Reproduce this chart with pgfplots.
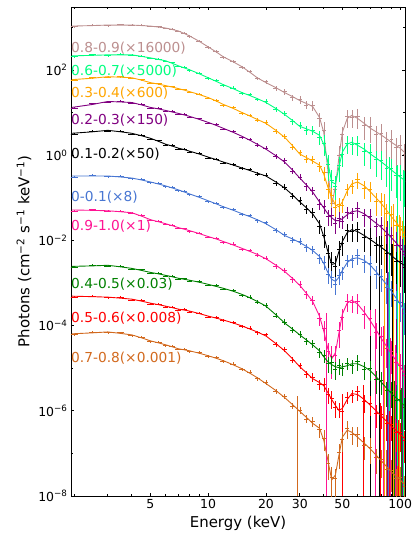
\documentclass[border=0pt]{standalone}
\usepackage{fontspec}
\setmainfont{DejaVu Sans}
\usepackage{pgfplots}
\usepackage{pgfplotstable}
\pgfplotsset{compat=1.18}
\definecolor{cBrown}{HTML}{BC8F8F}
\definecolor{cSpring}{HTML}{00FF7F}
\definecolor{cOrange}{HTML}{FFA500}
\definecolor{cPurple}{HTML}{800080}
\definecolor{cBlack}{HTML}{000000}
\definecolor{cBlue}{RGB}{72,118,210}
\definecolor{cPink}{HTML}{FF1493}
\definecolor{cGreen}{HTML}{008000}
\definecolor{cRed}{HTML}{FF0000}
\definecolor{cChoc}{HTML}{D2691E}

% binned spectra: E, rel. x error, rel. y errors (normal / deep-dip), 10 phase bins
\pgfplotstableread{
E ex ey ez s1 s2 s3 s4 s5 s6 s7 s8 s9 s10
2 0.045 0.05 0.05 1040 205 57 12.6 3.1 0.31 0.049 0.00235 4.7e-4 6.1e-5
2.5 0.045 0.05 0.05 1130 228 66 16.2 3.7 0.34 0.053 0.00265 5.0e-4 7.1e-5
3 0.04 0.05 0.05 1100 218 67 17.5 3.7 0.315 0.048 0.0025 4.5e-4 6.8e-5
3.5 0.04 0.05 0.05 1170 236 70 18.6 3.7 0.32 0.049 0.0025 4.6e-4 6.9e-5
4 0.04 0.05 0.05 1110 220 63 16.6 3.15 0.28 0.043 0.0021 4.0e-4 5.8e-5
4.5 0.04 0.05 0.05 1140 214 59.5 15.8 2.98 0.272 0.039 0.00205 3.9e-4 5.4e-5
5 0.04 0.05 0.05 1050 186 48.5 12.7 2.4 0.226 0.0295 0.0017 3.25e-4 4.2e-5
5.5 0.04 0.05 0.05 1040 182 48 12.8 2.2 0.22 0.0285 0.0017 3.2e-4 4.1e-5
6 0.035 0.05 0.05 940 158 41.5 10.8 1.75 0.183 0.0238 0.00145 2.75e-4 3.4e-5
6.5 0.035 0.05 0.05 910 148 41 10.8 1.7 0.177 0.0229 0.00146 2.75e-4 3.3e-5
7 0.035 0.05 0.05 800 121 35.2 9.2 1.41 0.148 0.0191 0.00124 2.33e-4 2.75e-5
7.5 0.035 0.05 0.05 740 116 34.8 9.2 1.41 0.143 0.019 0.00127 2.4e-4 2.8e-5
8 0.035 0.06 0.06 610 97 29.8 7.8 1.19 0.118 0.0162 0.00111 2.1e-4 2.45e-5
9 0.035 0.06 0.06 480 84 27.3 7.2 1.11 0.107 0.015 0.00109 2.0e-4 2.35e-5
10 0.035 0.06 0.06 335 63 21.6 5.65 0.86 0.081 0.0118 0.00089 1.6e-4 1.88e-5
11 0.035 0.07 0.07 275 56 19.4 5.2 0.82 0.076 0.0113 0.00087 1.57e-4 1.8e-5
12 0.035 0.07 0.07 196 43.5 14.9 4.1 0.66 0.059 0.009 0.00072 1.3e-4 1.44e-5
13.5 0.035 0.08 0.08 162 38 13.0 3.6 0.62 0.054 0.0083 0.00067 1.21e-4 1.27e-5
15 0.035 0.08 0.08 114 28.2 9.6 2.65 0.48 0.040 0.0062 0.00052 9.4e-5 9.3e-6
16.5 0.03 0.09 0.09 92 26.5 8.7 2.35 0.46 0.038 0.0058 0.00047 8.8e-5 8.1e-6
18 0.03 0.1 0.1 63 20.4 6.6 1.72 0.36 0.029 0.0045 0.000355 6.8e-5 5.7e-6
20 0.03 0.12 0.12 53 18.2 5.9 1.47 0.345 0.026 0.0039 0.0003 6.1e-5 4.7e-6
22.5 0.03 0.13 0.13 36.5 11.8 3.6 0.92 0.22 0.017 0.0025 0.00017 3.6e-5 2.8e-6
25 0.03 0.15 0.15 31 9.6 2.8 0.74 0.18 0.0138 0.002 0.000122 2.75e-5 2.2e-6
27.5 0.03 0.16 0.16 22.5 6.2 1.55 0.42 0.11 0.0102 0.0012 7.9e-5 1.55e-5 1.3e-6
30 0.025 0.18 0.2 20.2 5.1 1.14 0.31 0.086 0.0095 0.00094 6.4e-5 1.15e-5 1.05e-6
32.5 0.025 0.2 0.22 15.2 3.9 0.82 0.185 0.054 0.0068 0.00053 4.3e-5 7.3e-6 6.5e-7
35 0.025 0.22 0.25 14.8 3.9 0.78 0.148 0.045 0.0062 0.0004 3.8e-5 6.2e-6 5.6e-7
38 0.025 0.28 0.35 7.2 2.7 0.55 0.072 0.022 0.0038 0.00015 2.35e-5 4.2e-6 3.6e-7
40 0.025 0.35 0.5 3.9 1.95 0.39 0.064 0.0135 0.0031 8.5e-5 2.0e-5 4.3e-6 2.3e-7
42 0.025 0.4 0.6 0.40 0.62 0.16 0.037 0.0049 0.0016 2.5e-5 1.3e-5 2.4e-6 6.0e-8
44 0.025 0.45 0.7 0.075 0.26 0.115 0.039 0.0031 0.00135 1.9e-5 1.35e-5 2.0e-6 2.8e-8
46 0.025 0.45 0.7 0.16 0.19 0.06 0.025 0.0025 0.00095 2.0e-5 0.95e-5 1.2e-6 2.6e-8
48 0.025 0.4 0.6 1.0 0.58 0.07 0.033 0.0062 0.0015 7.6e-5 1.15e-5 1.1e-6 1.05e-7
50 0.025 0.35 0.5 3.1 1.05 0.068 0.028 0.0085 0.0018 1.6e-4 1.0e-5 1.0e-6 2.1e-7
53 0.025 0.3 0.45 8.0 1.95 0.16 0.046 0.017 0.0034 3.8e-4 1.3e-5 2.1e-6 3.9e-7
56 0.025 0.35 0.45 7.8 1.85 0.19 0.043 0.0165 0.0034 3.5e-4 1.15e-5 2.3e-6 2.8e-7
60 0.025 0.4 0.5 8.1 1.9 0.27 0.056 0.018 0.0044 3.7e-4 1.45e-5 2.8e-6 2.8e-7
65 0.025 0.45 0.55 5.0 1.25 0.17 0.038 0.0118 0.0031 1.85e-4 0.95e-5 1.65e-6 1.55e-7
70 0.025 0.5 0.6 4.8 1.17 0.155 0.036 0.0115 0.0029 1.45e-4 9.8e-6 1.5e-6 1.4e-7
75 0.02 0.55 0.6 3.1 0.78 0.085 0.022 0.0075 0.0016 7.0e-5 5.5e-6 0.88e-6 8.0e-8
80 0.02 0.55 0.65 3.3 0.75 0.083 0.023 0.0076 0.0014 5.5e-5 5.2e-6 8.2e-7 7.4e-8
85 0.02 0.6 0.65 2.1 0.50 0.044 0.013 0.0049 0.0008 2.9e-5 3.0e-6 5.0e-7 4.3e-8
90 0.02 0.6 0.7 2.3 0.49 0.041 0.013 0.0049 0.0007 2.5e-5 2.9e-6 4.8e-7 4.1e-8
95 0.02 0.65 0.7 1.5 0.33 0.023 0.0078 0.0032 0.0004 1.35e-5 1.8e-6 3.1e-7 2.6e-8
100 0.02 0.65 0.75 1.7 0.34 0.022 0.0076 0.0033 0.00035 1.2e-5 1.85e-6 3.1e-7 2.7e-8
105 0.02 0.7 0.75 1.05 0.24 0.0125 0.0046 0.0023 0.0002 6.8e-6 1.2e-6 2.0e-7 1.7e-8
}\dataT

% best-fit models
\pgfplotstableread{
E m1 m2 m3 m4 m5 m6 m7 m8 m9 m10
1.95 1070 214 59.1 13.2 3.26 0.324 0.0517 0.00245 4.9e-4 6.4e-5
2.5 1100 220 64 15.5 3.53 0.324 0.0506 0.00252 4.77e-4 6.75e-5
3 1130 226 69.4 18.2 3.83 0.324 0.0495 0.0026 4.65e-4 7.1e-5
3.5 1130 226 67.5 17.7 3.53 0.307 0.047 0.00239 4.4e-4 6.55e-5
4 1130 226 65.6 17.2 3.26 0.29 0.0445 0.0022 4.17e-4 6.05e-5
4.5 1100 208 57.5 15.1 2.85 0.261 0.037 0.00197 3.75e-4 5.15e-5
5 1070 192 50.4 13.2 2.49 0.235 0.0306 0.00177 3.36e-4 4.38e-5
5.5 1015 177 46.5 12.2 2.12 0.211 0.0274 0.00164 3.1e-4 3.94e-5
6 964 164 42.9 11.2 1.81 0.19 0.0246 0.00151 2.86e-4 3.54e-5
6.5 890 143 39.6 10.3 1.63 0.17 0.0221 0.0014 2.64e-4 3.18e-5
7 820 125 36.5 9.54 1.46 0.153 0.0199 0.00129 2.43e-4 2.85e-5
7.5 718 112 33.6 8.8 1.35 0.137 0.0183 0.00122 2.31e-4 2.7e-5
8 628 101 31.0 8.12 1.24 0.123 0.0169 0.00116 2.19e-4 2.56e-5
9 467 81 26.4 6.9 1.06 0.102 0.0144 0.00104 1.91e-4 2.24e-5
10 347 65.6 22.5 5.88 0.90 0.085 0.0123 0.00093 1.67e-4 1.96e-5
11 265 54 18.7 5.0 0.787 0.072 0.0108 0.00083 1.5e-4 1.71e-5
12 203 45.1 15.5 4.26 0.689 0.0615 0.0094 0.00075 1.35e-4 1.5e-5
13.5 155 36.4 12.5 3.43 0.587 0.051 0.0078 0.00064 1.15e-4 1.2e-5
15 119 29.4 10.0 2.77 0.50 0.0422 0.0065 0.00054 9.8e-5 9.7e-6
16.5 88 25 8.3 2.24 0.436 0.036 0.0055 0.00045 8.3e-5 7.6e-6
18 65.6 21.3 6.91 1.81 0.38 0.0306 0.0047 0.00037 7.1e-5 6.0e-6
20 50.4 17.2 5.57 1.38 0.324 0.0246 0.0037 0.000286 5.7e-5 4.36e-6
22.5 38.5 12.5 3.83 0.975 0.235 0.0179 0.00263 0.00018 3.8e-5 3.0e-6
25 29.4 9.04 2.63 0.689 0.17 0.0130 0.00187 0.000115 2.56e-5 2.05e-6
27.5 23.7 6.5 1.67 0.447 0.117 0.0108 0.00128 8.3e-5 1.66e-5 1.4e-6
30 19.1 4.74 1.06 0.29 0.080 0.0089 0.00088 6.05e-5 1.08e-5 9.7e-7
32.5 16.3 4.15 0.877 0.20 0.058 0.0072 0.00057 4.6e-5 7.8e-6 7.0e-7
35 13.9 3.63 0.725 0.137 0.0422 0.0058 0.00037 3.54e-5 5.7e-6 5.1e-7
38 7.7 2.93 0.585 0.080 0.0246 0.0042 0.000167 2.56e-5 4.6e-6 3.9e-7
40 3.44 1.81 0.36 0.058 0.0123 0.00287 7.5e-5 1.85e-5 3.9e-6 2.04e-7
42 0.448 0.689 0.18 0.0422 0.00552 0.00177 2.85e-5 1.42e-5 2.68e-6 7.0e-8
44 0.0684 0.235 0.10 0.034 0.00273 0.00122 1.66e-5 1.21e-5 1.84e-6 2.38e-8
46 0.180 0.211 0.0684 0.029 0.00287 0.00109 2.3e-5 1.08e-5 1.34e-6 3.12e-8
48 0.90 0.526 0.0615 0.029 0.00552 0.00136 6.7e-5 1.03e-5 1.02e-6 9.1e-8
50 3.44 1.18 0.080 0.0322 0.0094 0.00197 1.86e-4 1.08e-5 1.14e-6 2.4e-7
53 7.29 1.81 0.145 0.040 0.0152 0.0030 3.36e-4 1.14e-5 1.84e-6 3.5e-7
56 8.57 2.01 0.211 0.047 0.0178 0.0037 3.95e-4 1.27e-5 2.54e-6 3.14e-7
60 7.29 1.71 0.235 0.0495 0.0161 0.0039 3.2e-4 1.27e-5 2.41e-6 2.4e-7
65 5.57 1.38 0.19 0.0422 0.0130 0.0034 2.07e-4 1.08e-5 1.84e-6 1.74e-7
70 4.26 1.06 0.137 0.0322 0.0104 0.0026 1.28e-4 8.7e-6 1.34e-6 1.26e-7
75 3.53 0.855 0.099 0.0253 0.0084 0.00183 7.9e-5 6.3e-6 1.0e-6 9.1e-8
80 2.93 0.689 0.072 0.0199 0.0068 0.00129 4.87e-5 4.6e-6 7.4e-7 6.6e-8
85 2.43 0.555 0.051 0.0152 0.0055 0.00091 3.25e-5 3.4e-6 5.7e-7 4.9e-8
90 2.01 0.448 0.036 0.0116 0.0044 0.00064 2.17e-5 2.54e-6 4.33e-7 3.67e-8
95 1.71 0.37 0.027 0.0089 0.0036 0.00045 1.53e-5 2.05e-6 3.5e-7 2.95e-8
100 1.46 0.306 0.0199 0.0068 0.0030 0.00032 1.08e-5 1.66e-6 2.81e-7 2.38e-8
105 1.18 0.262 0.0144 0.0052 0.0026 0.00023 7.8e-6 1.34e-6 2.27e-7 1.93e-8
}\modelT

\pgfplotsset{
  dat/.style={draw=none, mark=none,
    error bars/.cd, x dir=both, x explicit relative, y dir=both, y explicit relative,
    error mark=none, error bar style={draw=#1, line width=0.5pt}},
  mdl/.style={#1, line width=0.9pt, mark=none},
  lim/.style={ycomb, #1, line width=0.5pt, mark=none},
}
\newcommand{\lab}{\fontsize{13.8}{16}\selectfont}

\begin{document}
\begin{tikzpicture}
\path[use as bounding box] (-71bp,-43bp) rectangle (349bp,496bp);
\begin{axis}[
  at={(0,0)}, anchor=south west,
  scale only axis, width=334bp, height=489bp,
  xmode=log, ymode=log, log origin y=infty,
  xmin=1.93, xmax=106, ymin=1e-8, ymax=3e3,
  xtick={5,10,20,30,50,100}, xticklabels={5,10,20,30,50,100},
  minor xtick={2,3,4,6,7,8,9,40,60,70,80,90},
  ytick={1e-8,1e-6,1e-4,1e-2,1,100},
  yticklabels={10\textsuperscript{−8},10\textsuperscript{−6},10\textsuperscript{−4},10\textsuperscript{−2},10\textsuperscript{0},10\textsuperscript{2}},
  minor ytick={1e-7,1e-5,1e-3,1e-1,10,1000},
  tick align=inside, major tick length=3.5bp, minor tick length=2bp,
  tick style={black, line width=0.6pt},
  axis line style={line width=0.8pt},
  tick label style={font=\fontsize{12.5}{15}\selectfont},
  label style={font=\fontsize{15}{18}\selectfont},
  xlabel={Energy (keV)},
  ylabel={Photons (cm\textsuperscript{−2} s\textsuperscript{−1} keV\textsuperscript{−1})},
]
% 0.8-0.9
\addplot[dat=cBrown] table[x=E, y=s1, x error=ex, y error=ez] {\dataT};
\addplot[mdl=cBrown] table[x=E, y=m1] {\modelT};
% 0.6-0.7
\addplot[dat=cSpring] table[x=E, y=s2, x error=ex, y error=ez] {\dataT};
\addplot[lim=cSpring] coordinates {(88,0.9) (97,0.6) (103.5,0.45)};
\addplot[mdl=cSpring] table[x=E, y=m2] {\modelT};
% 0.3-0.4
\addplot[dat=cOrange] table[x=E, y=s3, x error=ex, y error=ey] {\dataT};
\addplot[lim=cOrange] coordinates {(83,0.12) (92,0.07) (99,0.04) (103,0.028)};
\addplot[mdl=cOrange] table[x=E, y=m3] {\modelT};
% 0.2-0.3
\addplot[dat=cPurple] table[x=E, y=s4, x error=ex, y error=ey] {\dataT};
\addplot[lim=cPurple] coordinates {(86,0.028) (96,0.016) (102,0.011)};
\addplot[mdl=cPurple] table[x=E, y=m4] {\modelT};
% 0.1-0.2
\addplot[dat=cBlack] table[x=E, y=s5, x error=ex, y error=ez] {\dataT};
\addplot[lim=cBlack] coordinates {(70,0.02) (78,0.013) (91,0.008)};
\addplot[mdl=cBlack] table[x=E, y=m5] {\modelT};
% 0-0.1
\addplot[dat=cBlue] table[x=E, y=s6, x error=ex, y error=ey] {\dataT};
\addplot[lim=cBlue] coordinates {(87,0.0018)};
\addplot[mdl=cBlue] table[x=E, y=m6] {\modelT};
% 0.9-1.0
\addplot[dat=cPink] table[x=E, y=s7, x error=ex, y error=ez] {\dataT};
\addplot[lim=cPink] coordinates {(41,2e-4) (74,2.5e-4) (82,1e-4) (89,5e-5) (94,3.5e-5)};
\addplot[mdl=cPink] table[x=E, y=m7] {\modelT};
% 0.4-0.5
\addplot[dat=cGreen] table[x=E, y=s8, x error=ex, y error=ey] {\dataT};
\addplot[lim=cGreen] coordinates {(93,5e-6) (101,3.5e-6)};
\addplot[mdl=cGreen] table[x=E, y=m8] {\modelT};
% 0.5-0.6
\addplot[dat=cRed] table[x=E, y=s9, x error=ex, y error=ey] {\dataT};
\addplot[lim=cRed] coordinates {(50,2.5e-6) (64,4e-6) (79,1.5e-6) (88,1e-6) (98,6e-7)};
\addplot[mdl=cRed] table[x=E, y=m9] {\modelT};
% 0.7-0.8
\addplot[dat=cChoc] table[x=E, y=s10, x error=ex, y error=ez] {\dataT};
\addplot[lim=cChoc] coordinates {(29,2.2e-6) (85,1.2e-7) (97,5e-8)};
\addplot[mdl=cChoc] table[x=E, y=m10] {\modelT};

\begin{scope}[every node/.style={anchor=west, inner sep=0pt, font=\lab}]
\node[text=cBrown] at (axis cs:1.93,330) {0.8-0.9(×16000)};
\node[text=cSpring] at (axis cs:1.93,95.7) {0.6-0.7(×5000)};
\node[text=cOrange] at (axis cs:1.93,27.9) {0.3-0.4(×600)};
\node[text=cPurple] at (axis cs:1.93,6.55) {0.2-0.3(×150)};
\node[text=cBlack] at (axis cs:1.93,1.05) {0.1-0.2(×50)};
\node[text=cBlue] at (axis cs:1.93,0.105) {0-0.1(×8)};
\node[text=cPink] at (axis cs:1.93,0.021) {0.9-1.0(×1)};
\node[text=cGreen] at (axis cs:1.93,9.3e-4) {0.4-0.5(×0.03)};
\node[text=cRed] at (axis cs:1.93,1.5e-4) {0.5-0.6(×0.008)};
\node[text=cChoc] at (axis cs:1.93,1.76e-5) {0.7-0.8(×0.001)};
\end{scope}
\end{axis}
\end{tikzpicture}
\end{document}
